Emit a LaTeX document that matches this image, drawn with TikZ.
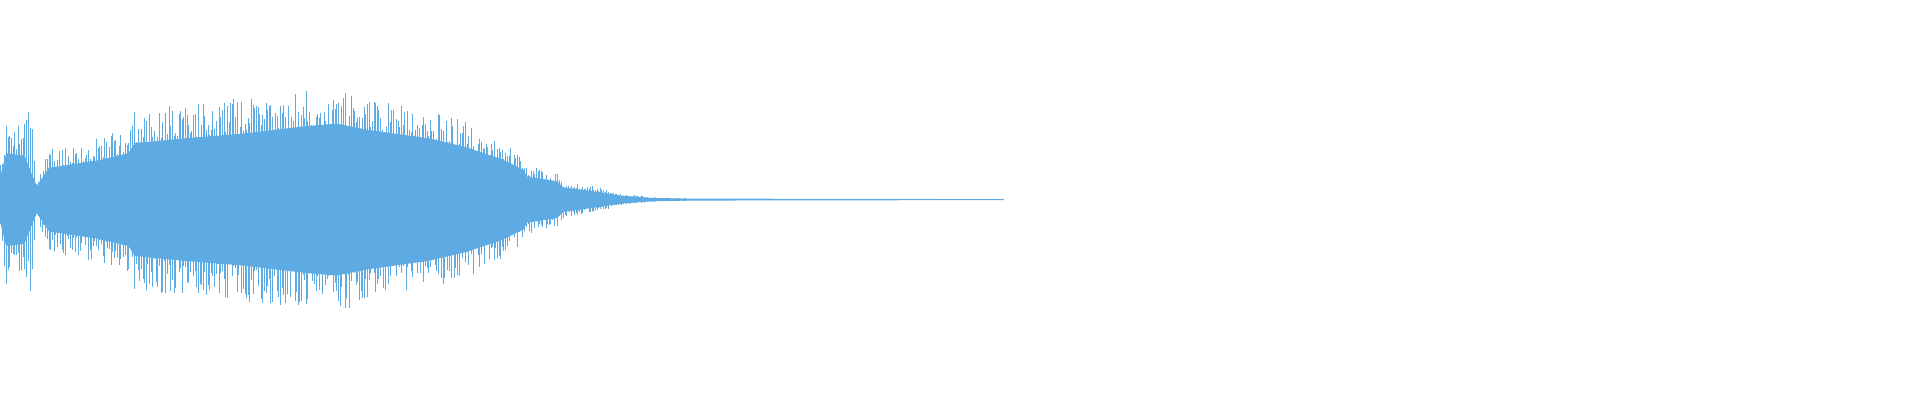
\documentclass[tikz,border=0pt]{standalone}
\definecolor{wave}{RGB}{93,171,226}
\begin{document}
\begin{tikzpicture}[x=1pt,y=-1pt,line width=0.45pt]
\useasboundingbox (0,0) rectangle (1568,327);
\pgfmathsetseed{7}
% core envelope
\fill[wave] (0,163)
 \foreach \x/\h in {0/18,5/38,20/36,30/11,40/26,80/32,105/38,110/46,150/50,200/54,250/60,275/62,300/57,350/50,380/43,410/33,428/24,430/19,455/15,460/10,490/6,505/3.5,530/1.5,560/0.8,820/0.4}{ -- (\x,163-\h)}
 \foreach \x/\h in {820/0.4,560/0.8,530/1.5,505/3.5,490/6,460/10,455/15,430/19,428/24,410/33,380/43,350/50,300/57,275/62,250/60,200/54,150/50,110/46,105/38,80/32,40/26,30/11,20/36,5/38,0/18}{ -- (\x,163+\h)} -- cycle;
% spikes
\foreach \xa/\ha/\xb/\hb in {0/30/5/70,5/70/20/62,20/62/25/80,25/80/30/15,30/15/40/42,40/42/80/52,80/52/105/62,105/62/110/74,110/74/150/78,150/78/200/84,200/84/250/90,250/90/275/92,275/92/300/84,300/84/350/74,350/74/380/64,380/64/410/48,410/48/428/35,428/35/430/28,430/28/455/22,455/22/460/15,460/15/490/10,490/10/505/5,505/5/530/2,530/2/560/1}{
  \pgfmathtruncatemacro{\N}{max(1,(\xb-\xa)/1.3)}
  \foreach \i in {0,...,\N}{
    \pgfmathsetmacro{\xx}{\xa+(\xb-\xa)*\i/\N}
    \pgfmathsetmacro{\hh}{(\ha+(\hb-\ha)*\i/\N)*(0.6+0.4*rnd)}
    \pgfmathsetmacro{\hl}{(\ha+(\hb-\ha)*\i/\N)*(0.6+0.4*rnd)}
    \draw[wave] (\xx,163-\hh) -- (\xx,163+\hl);
  }
}
\draw[wave,line width=0.8pt] (560,163) -- (820,163);
\end{tikzpicture}
\end{document}
